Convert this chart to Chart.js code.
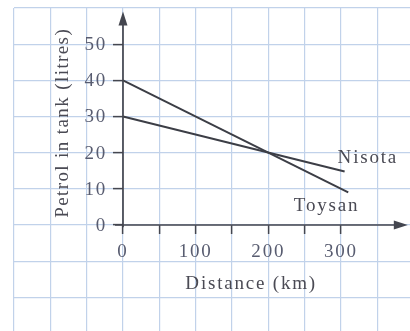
<!DOCTYPE html>
<html>
<head>
<meta charset="utf-8">
<script src="https://cdn.jsdelivr.net/npm/chart.js@4"></script>
<style>
  html, body { margin: 0; padding: 0; background: #ffffff; }
  #wrap { width: 410px; height: 331px; }
</style>
</head>
<body>
<div id="wrap"><canvas id="c" width="410" height="331"></canvas></div>
<script>
// Petrol remaining against distance driven, for two cars
const seriesNames = ['Nisota', 'Toysan'];
const nisotaKm = [0, 305];
const nisotaLitres = [30, 14.8];
const toysanKm = [0, 310];
const toysanLitres = [40, 9];

// Axis ticks and labels
const xTickLabels = [0, 100, 200, 300];
const xTickMarks = [0, 50, 100, 150, 200, 250, 300];
const yTickLabels = [0, 10, 20, 30, 40, 50];
const xTitle = 'Distance (km)';
const yTitle = 'Petrol in tank (litres)';

// Extent of the drawn axis arrows (in data units)
const xAxisFrom = -11, xAxisTo = 392;
const yAxisFrom = -0.6, yAxisTo = 59;

const FONT = '"Liberation Serif", "Times New Roman", serif';
const gridColor = '#c1d2ea';
const axisColor = '#44464f';
const lineColor = '#3c3e46';
const tickTextColor = '#585c70';
const titleColor = '#4a4a54';
const SPACING = '1.8px';

function toPoints(xs, ys) {
  return xs.map((x, i) => ({ x: x, y: ys[i] }));
}

function zeroPadding(scale) {
  scale.paddingLeft = 0; scale.paddingRight = 0;
  scale.paddingTop = 0; scale.paddingBottom = 0;
}

const paperPlugin = {
  id: 'paper',
  beforeDraw(chart) {
    chart.ctx.letterSpacing = SPACING;
  },
  afterDatasetsDraw(chart) {
    const ctx = chart.ctx;
    const xs = chart.scales.x, ys = chart.scales.y;
    const ox = xs.getPixelForValue(0), oy = ys.getPixelForValue(0);
    const xEnd = xs.getPixelForValue(xAxisTo), yEnd = ys.getPixelForValue(yAxisTo);
    ctx.save();
    ctx.strokeStyle = axisColor;
    ctx.fillStyle = axisColor;
    ctx.lineWidth = 1.7;
    ctx.beginPath();
    ctx.moveTo(xs.getPixelForValue(xAxisFrom), oy);
    ctx.lineTo(xEnd - 8, oy);
    ctx.moveTo(ox, ys.getPixelForValue(yAxisFrom));
    ctx.lineTo(ox, yEnd + 8);
    ctx.stroke();
    // arrow heads
    ctx.beginPath();
    ctx.moveTo(xEnd, oy);
    ctx.lineTo(xEnd - 14, oy - 4.5);
    ctx.lineTo(xEnd - 14, oy + 4.5);
    ctx.closePath();
    ctx.fill();
    ctx.beginPath();
    ctx.moveTo(ox, yEnd);
    ctx.lineTo(ox - 4.5, yEnd + 14);
    ctx.lineTo(ox + 4.5, yEnd + 14);
    ctx.closePath();
    ctx.fill();
    ctx.restore();
  },
  afterDraw(chart) {
    const ctx = chart.ctx;
    const xs = chart.scales.x, ys = chart.scales.y;
    const ox = xs.getPixelForValue(0);
    ctx.save();
    ctx.letterSpacing = SPACING;
    ctx.font = '19px ' + FONT;

    // y tick labels, to the left of the tick marks
    ctx.fillStyle = tickTextColor;
    ctx.textAlign = 'right';
    ctx.textBaseline = 'middle';
    yTickLabels.forEach(v => ctx.fillText(String(v), ox - 16, ys.getPixelForValue(v) + 1));

    ctx.fillStyle = titleColor;
    // x title, centred under the labelled range
    ctx.textAlign = 'center';
    ctx.textBaseline = 'alphabetic';
    const xMid = (xs.getPixelForValue(0) + xs.getPixelForValue(350)) / 2;
    ctx.fillText(xTitle, xMid + 1, ys.getPixelForValue(0) + 64);
    // y title, rotated
    ctx.letterSpacing = '1.4px';
    const yMid = (ys.getPixelForValue(-1) + ys.getPixelForValue(57.5)) / 2;
    ctx.save();
    ctx.translate(ox - 55, yMid);
    ctx.rotate(-Math.PI / 2);
    ctx.fillText(yTitle, 0, 0);
    ctx.restore();
    ctx.letterSpacing = SPACING;
    // series names beside the line ends
    const nEnd = chart.getDatasetMeta(0).data[1];
    const tEnd = chart.getDatasetMeta(1).data[1];
    ctx.textAlign = 'left';
    ctx.fillText(seriesNames[0], nEnd.x - 7, nEnd.y - 8);
    ctx.textAlign = 'right';
    ctx.fillText(seriesNames[1], tEnd.x + 11, tEnd.y + 19);
    ctx.restore();
  }
};

new Chart(document.getElementById('c'), {
  type: 'line',
  data: {
    datasets: [
      {
        label: seriesNames[0],
        data: toPoints(nisotaKm, nisotaLitres),
        borderColor: lineColor, borderWidth: 2, pointRadius: 0, fill: false, tension: 0
      },
      {
        label: seriesNames[1],
        data: toPoints(toysanKm, toysanLitres),
        borderColor: lineColor, borderWidth: 2, pointRadius: 0, fill: false, tension: 0
      }
    ]
  },
  options: {
    responsive: false,
    animation: false,
    devicePixelRatio: 1,
    layout: { padding: { left: 14, top: 8, right: 0, bottom: 0 } },
    plugins: { legend: { display: false }, tooltip: { enabled: false } },
    scales: {
      x: {
        type: 'linear', min: -150, max: 395, position: { y: 0 },
        afterFit: zeroPadding,
        border: { display: false },
        grid: {
          color: gridColor, lineWidth: 1.2,
          drawTicks: true, tickLength: 9, tickWidth: 1.5,
          tickColor: c => (c.tick && xTickMarks.includes(c.tick.value)) ? axisColor : 'rgba(0,0,0,0)'
        },
        ticks: {
          stepSize: 50, autoSkip: false, maxRotation: 0, minRotation: 0, includeBounds: false,
          padding: 7, color: tickTextColor, font: { family: FONT, size: 19 },
          callback: v => xTickLabels.includes(v) ? String(v) : ''
        }
      },
      y: {
        type: 'linear', min: -29.3, max: 60, position: { x: 0 },
        afterFit: zeroPadding,
        border: { display: false },
        grid: {
          color: gridColor, lineWidth: 1.2,
          drawTicks: true, tickLength: 10, tickWidth: 1.5,
          tickColor: c => (c.tick && yTickLabels.includes(c.tick.value)) ? axisColor : 'rgba(0,0,0,0)'
        },
        ticks: {
          stepSize: 10, autoSkip: false, includeBounds: false,
          display: false
        }
      }
    }
  },
  plugins: [paperPlugin]
});
</script>
</body>
</html>
